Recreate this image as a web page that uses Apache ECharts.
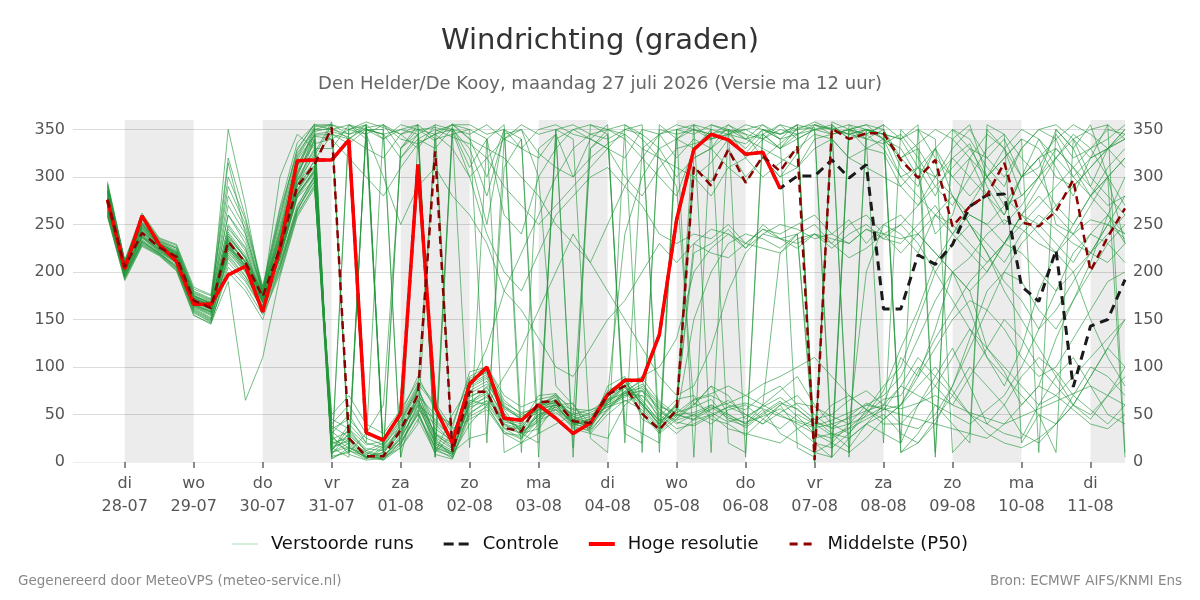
<!DOCTYPE html>
<html><head><meta charset="utf-8">
<script src="https://cdn.jsdelivr.net/npm/echarts@6/dist/echarts.min.js"></script>
<style>html,body{margin:0;padding:0;background:#fff}#c{width:1200px;height:600px}</style>
</head><body><div id="c"></div>
<script>
// ---- axis / time data ----
const weekdayNames = ['zo','ma','di','wo','do','vr','za'];
const axisStartUTC = Date.UTC(2026, 6, 27, 6);   // 27-07 06:00, left edge
const stepHours = 6;
const categoryCount = 62;                        // 27-07 06:00 .. 11-08 12:00
const dataOffset = 2;                            // first value at 27-07 18:00
const yTickValues = [0, 50, 100, 150, 200, 250, 300, 350];
const shadedDays = [['2026-07-28','2026-07-29'],['2026-07-30','2026-07-31'],['2026-08-01','2026-08-02'],
  ['2026-08-03','2026-08-04'],['2026-08-05','2026-08-06'],['2026-08-07','2026-08-08'],
  ['2026-08-09','2026-08-10'],['2026-08-11','END']];

// ---- series values (degrees, 6-hourly from 27-07 18:00) ----
const hogeResolutie = [276,203,259,229,211,166,166,197,206,158,225,317,318,318,339,31,23,51,313,57,20,82,100,46,44,60,46,30,41,71,86,86,134,255,329,345,339,324,326,288];
const controle = [276,203,259,229,211,166,166,197,206,158,225,317,318,318,339,31,23,51,313,57,20,82,100,46,44,60,46,30,41,71,86,86,134,255,329,345,339,324,326,
  288,301,301,318,299,313,161,161,218,208,229,269,281,282,185,169,223,79,143,150,192];
const middelste = [276,205,241,226,216,170,162,232,210,174,225,290,313,352,25,6,6,34,71,327,11,74,74,36,32,63,64,43,41,71,80,51,34,55,
  311,291,329,294,322,306,332,2,351,340,346,346,318,299,318,248,269,281,315,252,248,264,297,201,237,267];
const verstoordeRuns = [
 [285,207,250,230,220,172,165,240,215,178,232,300,345, 12,35,10,5,28,55,40,20, 60,80,45,40,70,72,38,45,75,85,60,40,62, 230,245,240,225,250,235,240,25,30,15,40,60, 110,90,140,200,180,120,95,60,80,130,170,210,260,240],
 [270,200,238,224,212,166,158,228,205,170,220,285,318, 345,340,352,355,330,350,338,356, 340,300,350,330,320,345,15,330,350,340,320,300,280, 330,345,350,320,340,355,350,10,355,340,345,330, 300,310,280,320,335,290,260,300,340,310,280,320,330,350],
 [262,195,232,220,205,160,150,220,200,165,210,270,300, 25,15,5,8,40,75,20,10, 80,90,55,30,35,60,62,30,25,60,75,45,30, 45,60,50,40,55,30,20,10,5,25,40,30, 20,60,90,120,80,40,30,25,60,90,110,80,50,40],
 [290,210,255,232,225,178,170,260,230,180,245,320,350, 355,10,350,345,5,340,330,352, 320,250,350,10,330,345,300,340,355,20,330,345,320, 340,330,355,345,320,335,350,358,350,345,350,340, 330,300,240,260,320,345,330,280,300,350,330,290,330,310],
 [275,204,242,227,216,170,162,225,208,172,226,292,312, 8,30,12,20,45,80,25,5, 55,70,40,35,60,65,45,40,65,80,50,30,45, 60,80,70,45,60,75,90,60,40,30,55,80, 100,150,200,230,250,220,180,150,120,90,60,45,70,100],
 [268,198,236,222,210,164,155,245,225,168,228,305,335, 340,320,300,280,310,335,345,330, 300,240,200,180,220,260,280,300,310,290,270,240,230, 240,235,250,230,245,240,250,260,240,255,230,250, 240,220,260,280,250,230,210,240,260,245,230,220,250,240],
 [282,208,248,229,218,174,168,230,212,176,235,298,330, 20,25,5,2,15,45,10,30, 70,75,35,25,55,70,40,35,80,90,45,35,55, 310,295,330,300,320,300,325,355,350,345,340,350, 310,290,330,300,320,280,260,300,320,250,240,270,300,230],
 [278,206,244,226,216,170,163,235,210,174,222,290,340, 5,350,355,10,330,355,5,345, 15,340,355,30,20,350,340,25,10,355,345,30,350, 355,10,350,5,345,355,340,350,15,355,340,20, 350,330,10,340,355,300,320,340,10,350,330,355,300,5],
 [258,192,228,218,202,155,145,210,190,160,200,262,290, 30,50,20,15,35,60,45,25, 85,95,60,45,55,60,50,55,60,70,75,55,40, 50,40,55,60,45,35,50,40,60,70,55,45, 60,80,100,75,50,40,60,90,110,95,70,55,40,60],
 [295,212,260,235,228,182,175,290,250,184,260,330,355, 350,345,355,340,350,345,355,350, 345,355,340,330,350,355,345,340,330,320,350,345,355, 350,340,345,355,350,345,355,350,345,350,355,350, 320,300,330,350,340,310,290,330,350,340,300,320,355,340],
 [272,201,240,225,214,168,160,228,206,170,218,282,305, 40,60,30,25,50,90,55,35, 45,55,30,20,40,55,35,30,50,65,55,35,50, 45,55,65,50,40,60,70,50,35,40,60,70, 90,130,170,200,160,110,80,120,180,220,200,150,110,80],
 [266,197,234,221,209,163,154,224,202,167,214,278,298, 15,5,355,8,20,50,15,8, 65,60,30,28,50,58,42,38,70,80,60,40,60, 220,230,245,225,240,235,230,240,225,240,250,235, 230,250,270,240,220,200,230,260,250,230,210,240,260,230],
 [288,209,252,231,222,176,166,315,240,178,240,312,348, 352,340,355,10,330,345,20,350, 330,280,345,350,300,80,60,40,70,240,300,330,340, 350,345,340,335,350,345,355,5,358,350,345,355, 340,310,300,330,350,320,340,300,310,345,320,330,340,355],
 [260,194,230,219,204,158,148,200,180,150,205,265,295, 10,20,5,10,30,65,30,15, 50,65,45,35,50,55,40,45,55,75,85,50,35, 40,50,35,30,25,20,35,45,30,25,40,50, 30,20,45,70,100,80,60,30,20,40,60,90,120,100],
 [276,205,246,228,217,171,164,350,270,175,300,345,330, 330,355,345,300,250,290,310,280, 260,230,180,160,130,100,90,120,150,170,200,230,210, 230,220,215,230,225,220,235,240,230,250,260,240, 250,270,290,310,330,300,280,260,240,220,250,280,300,320],
 [283,207,249,229,219,173,166,238,214,177,238,305,352, 3,15,8,2,22,50,12,6, 75,85,50,32,42,64,48,40,72,88,66,42,58, 320,330,345,340,330,320,310,340,345,350,330,325, 290,310,330,280,250,220,190,170,140,160,190,220,250,280],
 [270,199,238,223,211,165,157,222,200,168,215,280,308, 35,45,25,18,38,70,50,40, 90,100,65,50,60,62,55,50,58,68,80,60,48, 65,70,60,55,70,80,60,45,50,65,75,60, 80,70,60,50,40,55,70,100,140,180,220,240,230,210],
 [292,211,258,234,226,180,172,300,255,182,265,325,350, 350,355,340,5,15,40,348,355, 340,330,320,300,280,250,230,210,250,290,320,345,350, 345,355,348,350,340,330,345,350,355,340,350,345, 10,30,60,40,20,350,330,300,320,340,355,345,330,340],
 [263,196,233,220,206,161,151,218,196,164,208,268,302, 18,28,12,6,25,58,22,12, 62,72,42,38,58,66,44,36,62,78,58,36,52, 58,66,44,38,52,64,48,30,20,10,25,45, 60,95,130,160,190,210,230,250,270,290,310,330,350,345],
 [279,206,243,227,215,169,161,233,209,173,224,291,325, 358,20,350,350,5,80,340,10, 25,30,310,340,30,40,50,330,345,40,30,20,340, 330,350,20,10,350,340,15,5,355,10,350,345, 20,350,340,10,30,355,345,20,50,10,340,350,355,10],
 [274,203,241,226,215,169,161,230,207,172,220,287,310, 22,12,3,14,32,68,18,9, 68,78,48,42,62,68,46,42,66,82,62,38,56, 48,56,62,70,82,90,100,110,90,70,55,40, 40,35,50,80,130,180,200,190,160,140,170,200,230,250],
 [286,208,251,230,221,175,168,260,235,179,250,318,344, 345,335,350,345,320,340,350,342, 335,320,340,350,325,310,300,320,335,345,330,320,310, 300,280,310,295,320,300,310,330,340,320,310,300, 290,270,300,320,300,280,250,270,300,330,310,280,260,300],
 [265,196,231,220,207,162,152,216,195,163,206,266,296, 28,8,2,4,26,72,28,18, 78,88,52,26,46,62,36,34,54,72,70,48,66, 70,45,40,28,45,60,35,20,15,30,50,75, 120,160,210,240,260,250,230,220,200,180,200,220,240,260],
 [281,207,247,228,218,172,165,242,218,176,234,302,338, 12,40,20,355,345,330,355,8, 40,60,90,120,160,200,240,210,180,150,120,90,70, 80,120,180,220,240,250,245,235,240,230,245,235, 250,230,200,170,140,110,90,70,50,40,60,90,120,150],
 [277,205,245,227,217,171,164,232,211,173,226,293,316, 16,22,6,10,34,62,26,14, 58,64,38,34,48,58,40,42,68,84,64,44,50, 52,60,48,36,50,62,56,40,28,36,52,66, 70,100,80,60,90,120,150,130,100,80,60,50,70,90],
 [289,210,253,232,223,177,169,280,245,181,255,322,353, 355,350,358,352,345,355,5,355, 350,20,340,355,345,350,5,355,350,345,10,355,340, 355,350,345,350,355,340,345,0,350,355,350,345, 340,350,320,300,280,300,320,340,330,300,290,310,330,340],
 [268,198,236,222,210,164,156,226,204,169,217,281,306, 32,18,4,16,42,78,35,22, 82,92,58,48,58,72,52,48,64,74,78,56,42, 38,48,58,50,40,52,62,58,48,40,48,58, 40,60,80,110,140,120,100,80,60,70,90,110,130,150],
 [273,202,239,225,213,167,159,229,206,171,219,284,312, 6,10,352,12,36,64,14,4, 52,62,36,30,46,56,42,38,62,80,90,100,130, 200,225,240,230,245,235,225,240,235,230,245,240, 235,240,220,200,215,240,255,245,230,220,240,255,250,235],
 [285,208,250,230,220,174,167,248,222,177,242,310,343, 340,350,345,355,340,335,345,350, 310,340,260,240,300,330,350,340,330,300,280,310,330, 335,340,350,345,340,350,345,355,345,350,340,335, 345,320,290,270,300,330,345,320,300,270,250,280,310,330],
 [261,194,229,218,203,157,147,205,185,155,198,260,292, 45,35,18,22,48,82,60,30, 72,82,58,44,52,64,50,46,58,64,70,52,44, 50,58,46,42,48,56,44,38,44,52,60,56, 50,45,40,35,30,25,40,60,80,70,55,40,35,50],
 [280,206,246,228,218,172,164,234,210,174,228,296,328, 14,24,10,3,18,52,16,8, 64,74,44,36,56,64,42,40,68,86,60,44,60, 300,315,340,325,345,330,340,350,352,345,350,340, 320,335,350,340,320,300,270,280,300,320,340,300,280,260],
 [293,212,262,236,229,184,176,320,258,185,268,336,355, 355,345,350,340,355,350,345,355, 355,345,350,340,5,350,355,345,340,350,355,10,350, 5,355,350,340,355,345,350,352,5,350,355,340, 300,280,260,240,270,300,330,350,340,320,300,280,300,320],
 [271,200,237,224,212,166,158,227,203,170,216,282,307, 24,32,14,12,30,66,30,20, 88,96,62,52,56,60,44,52,62,72,82,62,46, 62,52,42,48,58,68,55,42,36,48,62,55, 60,90,120,150,170,160,140,110,90,100,130,160,190,200],
 [264,195,232,219,205,159,149,214,192,161,204,264,300, 4,12,6,4,20,54,8,3, 48,58,32,24,44,52,38,32,56,74,52,32,48, 150,200,230,240,235,225,240,250,230,215,225,240, 220,240,260,250,230,210,230,260,280,260,240,220,210,230],
 [284,207,248,229,219,173,165,250,226,178,244,312,345, 348,342,330,320,345,350,352,348, 300,320,290,270,250,270,290,310,330,350,345,330,300, 320,330,310,320,300,315,330,345,340,320,330,340, 320,330,300,280,260,250,270,300,320,330,310,290,270,280],
 [269,199,237,223,211,165,158,224,202,169,214,279,304, 38,26,8,18,44,76,42,26, 86,94,56,46,54,66,48,44,60,70,76,58,52, 66,72,80,70,60,50,40,30,25,35,45,55, 80,110,90,70,50,30,20,15,25,40,70,100,90,70],
 [277,204,243,227,215,170,163,236,215,173,230,296,322, 355,10,30,60,320,345,10,50, 80,120,180,220,260,300,330,345,350,355,340,320,290, 60,80,50,40,60,220,240,10,20,40,200,250, 260,240,220,200,180,200,230,260,290,320,345,330,300,270],
 [286,208,251,230,221,175,167,238,216,178,236,304,340, 10,16,4,6,24,60,20,10, 60,68,40,30,50,60,40,36,64,80,62,40,54, 355,340,345,330,350,340,355,20,5,350,345,355, 10,20,40,80,120,160,200,230,250,270,290,310,330,350],
 [259,191,227,217,201,154,146,190,65,110,195,258,288, 50,70,40,30,55,85,62,36, 95,100,70,58,66,70,56,54,66,72,88,64,50, 44,50,58,62,56,48,42,36,40,46,54,60, 56,62,70,60,52,46,40,48,56,64,72,80,70,60],
 [291,211,256,233,225,179,171,270,240,180,258,328,356, 5,355,350,345,350,355,340,345, 350,340,10,20,30,340,350,355,345,30,20,350,345, 350,345,355,340,345,330,352,355,350,5,350,345, 340,355,5,350,330,320,300,330,350,355,340,320,330,345]
];

// ---- build categories ----
const pad = n => String(n).padStart(2, '0');
const categories = [];
const dayLabel = {};
for (let i = 0; i < categoryCount; i++) {
  const d = new Date(axisStartUTC + i * stepHours * 3600 * 1000);
  const key = d.getUTCFullYear() + '-' + pad(d.getUTCMonth() + 1) + '-' + pad(d.getUTCDate()) + ' ' + pad(d.getUTCHours());
  categories.push(key);
  dayLabel[key] = weekdayNames[d.getUTCDay()] + '\n' + pad(d.getUTCDate()) + '-' + pad(d.getUTCMonth() + 1);
}
const isMidnight = (idx) => categories[idx] && categories[idx].endsWith(' 00');
const padData = arr => Array(dataOffset).fill(null).concat(arr);

const markAreas = shadedDays.map(([a, b]) => [
  { xAxis: a + ' 00' },
  { xAxis: b === 'END' ? categories[categories.length - 1] : b + ' 00' }
]);

// legend icons (26 x 14 box; tiny corner dots fix the bounding box)
const box = 'M0,0h0.01v0.01h-0.01Z M26,14h-0.01v-0.01h0.01Z ';
const iconThin = 'path://' + box + 'M0,6.5h26v1h-26Z';
const iconRed = 'path://' + box + 'M0,5h26v4h-26Z';
const iconDash = 'path://' + box + 'M0,5.5h10v3h-10Z M15,5.5h10v3h-10Z';
const iconDashSmall = 'path://' + box + 'M1,5.5h8v3h-8Z M15,5.5h8v3h-8Z';

const FONT = 'DejaVu Sans';
const series = [];
series.push({
  name: 'shade', type: 'line', data: [], silent: true, z: 1,
  markArea: { silent: true, itemStyle: { color: 'rgba(0,0,0,0.075)' }, data: markAreas }
});
verstoordeRuns.forEach(run => {
  series.push({
    name: 'Verstoorde runs', type: 'line', data: padData(run), symbol: 'none', z: 2,
    lineStyle: { color: '#22963a', width: 1, opacity: 0.62 },
    itemStyle: { color: '#22963a', opacity: 0.62 },
    emphasis: { disabled: true }, silent: true
  });
});
series.push({
  name: 'Controle', type: 'line', data: padData(controle), symbol: 'none', z: 3,
  lineStyle: { color: '#1a1a1a', width: 3, type: [9, 6] }, itemStyle: { color: '#1a1a1a' },
  emphasis: { disabled: true }
});
series.push({
  name: 'Hoge resolutie', type: 'line', data: padData(hogeResolutie), symbol: 'none', z: 4,
  lineStyle: { color: '#ff0000', width: 3.5 }, itemStyle: { color: '#ff0000' },
  emphasis: { disabled: true }
});
series.push({
  name: 'Middelste (P50)', type: 'line', data: padData(middelste), symbol: 'none', z: 5,
  lineStyle: { color: '#8b0000', width: 2.5, type: [8, 5] }, itemStyle: { color: '#8b0000' },
  emphasis: { disabled: true }
});

const splitColors = yTickValues.map(v => v === 0 ? '#eeeeee' : '#dcdcdc').concat(['rgba(0,0,0,0)']);

const chart = echarts.init(document.getElementById('c'), null, { renderer: 'canvas' });
chart.setOption({
  animation: false,
  backgroundColor: '#ffffff',
  textStyle: { fontFamily: FONT },
  title: [
    { text: 'Windrichting (graden)', left: 'center', top: 27, padding: 0, textStyle: { fontFamily: FONT, fontSize: 29, fontWeight: 'normal', color: '#333333' } },
    { text: 'Den Helder/De Kooy, maandag 27 juli 2026 (Versie ma 12 uur)', left: 'center', top: 75, padding: 0, textStyle: { fontFamily: FONT, fontSize: 18, fontWeight: 'normal', color: '#666666' } },
    { text: 'Gegenereerd door MeteoVPS (meteo-service.nl)', left: 18, top: 574, padding: 0, textStyle: { fontFamily: FONT, fontSize: 13.5, fontWeight: 'normal', color: '#888888' } },
    { text: 'Bron: ECMWF AIFS/KNMI Ens', right: 18, top: 574, padding: 0, textStyle: { fontFamily: FONT, fontSize: 13.5, fontWeight: 'normal', color: '#888888' } }
  ],
  legend: {
    data: [
      { name: 'Verstoorde runs', icon: iconThin, itemStyle: { color: '#7cc488', borderWidth: 0 } },
      { name: 'Controle', icon: iconDash, itemStyle: { color: '#1a1a1a', borderWidth: 0 } },
      { name: 'Hoge resolutie', icon: iconRed, itemStyle: { color: '#ff0000', borderWidth: 0 } },
      { name: 'Middelste (P50)', icon: iconDashSmall, itemStyle: { color: '#8b0000', borderWidth: 0 } }
    ],
    top: 530, left: 'center', itemWidth: 26, itemHeight: 14, itemGap: 30,
    textStyle: { fontFamily: FONT, fontSize: 18, color: '#111111', padding: [0, 0, 0, 8] }
  },
  grid: { left: 73, right: 75, top: 120, bottom: 138, containLabel: false },
  xAxis: {
    type: 'category', data: categories, boundaryGap: false,
    axisLine: { show: false },
    axisTick: { show: true, interval: (i) => isMidnight(i), length: 6, lineStyle: { color: '#666666', width: 1.5 } },
    axisLabel: { interval: (i) => isMidnight(i), formatter: (v) => dayLabel[v], fontFamily: FONT, fontSize: 16, color: '#555555', lineHeight: 23, margin: 10 },
    splitLine: { show: false }
  },
  yAxis: [
    { type: 'value', min: 0, max: 360, interval: 50, position: 'left',
      axisLine: { show: false }, axisTick: { show: false },
      axisLabel: { showMaxLabel: false, fontFamily: FONT, fontSize: 16, color: '#555555', margin: 8 },
      splitLine: { show: true, lineStyle: { color: splitColors, width: 1 } } },
    { type: 'value', min: 0, max: 360, interval: 50, position: 'right',
      axisLine: { show: false }, axisTick: { show: false },
      axisLabel: { showMaxLabel: false, fontFamily: FONT, fontSize: 16, color: '#555555', margin: 8 },
      splitLine: { show: false } }
  ],
  series: series
});
</script>
</body></html>
